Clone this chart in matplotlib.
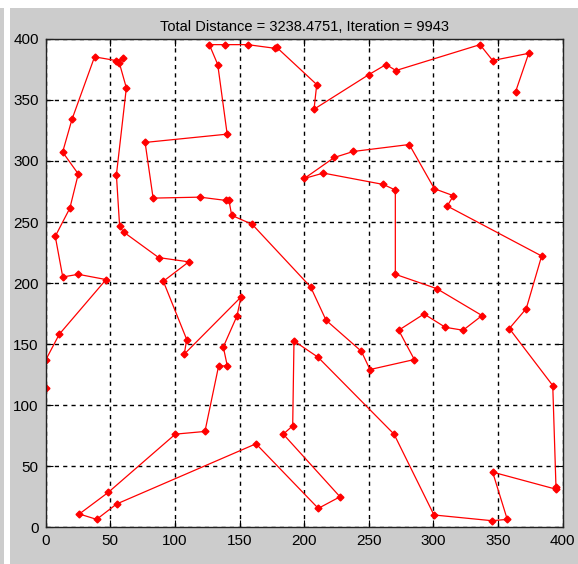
import matplotlib
matplotlib.use("Agg")
import matplotlib.pyplot as plt
from matplotlib.patches import Rectangle

# tour through the cities, in visiting order
route_x = [0.2, 0.2, 10.5, 46.7, 25.2, 13.2, 7.4, 18.7, 25.2, 13.1,
           20.3, 37.8, 54.2, 59.6, 56.9, 62.4, 54.7, 57.2, 60.3, 87.4,
           110.7, 91.0, 109.1, 107.2, 151.1, 148.0, 137.4, 140.5, 133.8, 123.2,
           100.3, 48.4, 26.0, 39.4, 54.9, 162.7, 210.9, 227.7, 183.8, 191.1,
           192.1, 210.7, 269.5, 300.4, 345.3, 357.1, 345.8, 394.8, 394.8, 392.3,
           358.7, 371.8, 383.7, 310.7, 315.4, 300.7, 281.3, 238.0, 223.3, 200.1,
           214.8, 261.2, 270.5, 270.5, 302.5, 337.6, 322.9, 309.2, 292.7, 273.1,
           285.2, 250.9, 244.2, 216.9, 205.0, 159.8, 143.9, 141.8, 139.5, 119.4,
           83.1, 76.9, 140.4, 133.1, 126.6, 138.5, 156.3, 177.4, 178.7, 209.7,
           207.6, 250.1, 263.3, 271.0, 336.0, 345.8, 373.7, 363.6]
route_y = [113.7, 137.4, 158.1, 202.9, 207.2, 205.0, 238.3, 261.4, 289.4, 307.3,
           334.0, 385.3, 382.3, 384.1, 380.6, 359.9, 288.6, 246.5, 241.8, 220.9,
           217.4, 201.5, 153.8, 141.8, 188.6, 173.1, 147.7, 132.2, 132.2, 78.5,
           76.3, 28.6, 10.9, 6.5, 19.1, 68.4, 15.5, 25.0, 76.3, 83.1,
           152.6, 139.3, 76.3, 10.1, 5.4, 6.5, 45.2, 31.2, 33.0, 116.1,
           162.8, 179.1, 222.2, 263.1, 271.6, 277.3, 313.5, 307.8, 302.9, 285.7,
           290.1, 280.8, 276.2, 207.2, 195.5, 173.4, 161.4, 163.8, 174.7, 161.4,
           137.4, 129.2, 144.2, 169.6, 196.8, 248.1, 255.5, 267.7, 267.7, 270.4,
           269.6, 315.2, 322.0, 379.0, 395.3, 395.3, 395.3, 392.3, 393.1, 362.6,
           342.4, 370.8, 379.0, 374.1, 395.3, 382.3, 388.2, 356.9]

total_distance = 3238.4751
iteration = 9943

plt.rcParams['font.family'] = ['Liberation Sans', 'DejaVu Sans']

fig = plt.figure(figsize=(5.78, 5.64), dpi=100)
fig.patch.set_facecolor('#cccccc')
# white margins of the window capture
fig.patches.append(Rectangle((0, 1 - 8 / 564), 1, 8 / 564, transform=fig.transFigure,
                             facecolor='white', edgecolor='none', zorder=0))
fig.patches.append(Rectangle((4 / 578, 0), 6 / 578, 1, transform=fig.transFigure,
                             facecolor='white', edgecolor='none', zorder=0))

ax = fig.add_axes([45.7 / 578, 1 - 527.3 / 564, 517 / 578, 488.4 / 564])
ax.plot(route_x, route_y, '-', color='red', linewidth=0.9,
        marker='D', markersize=3.5, markerfacecolor='red', markeredgecolor='red')

ax.set_xlim(0, 400)
ax.set_ylim(0, 400)
ax.set_xticks(range(0, 401, 50))
ax.set_yticks(range(0, 401, 50))
ax.tick_params(direction='in', top=True, right=True, length=5, labelsize=11,
               colors='black', pad=5)
ax.grid(True, color='black', linestyle=(0, (3, 3)), linewidth=1)
for s in ax.spines.values():
    s.set_color('#222222')
    s.set_linewidth(1)

ax.set_title('Total Distance = %.4f, Iteration = %d' % (total_distance, iteration),
             fontsize=10.5, pad=6)

fig.savefig('out.png', dpi=100, facecolor=fig.get_facecolor())
